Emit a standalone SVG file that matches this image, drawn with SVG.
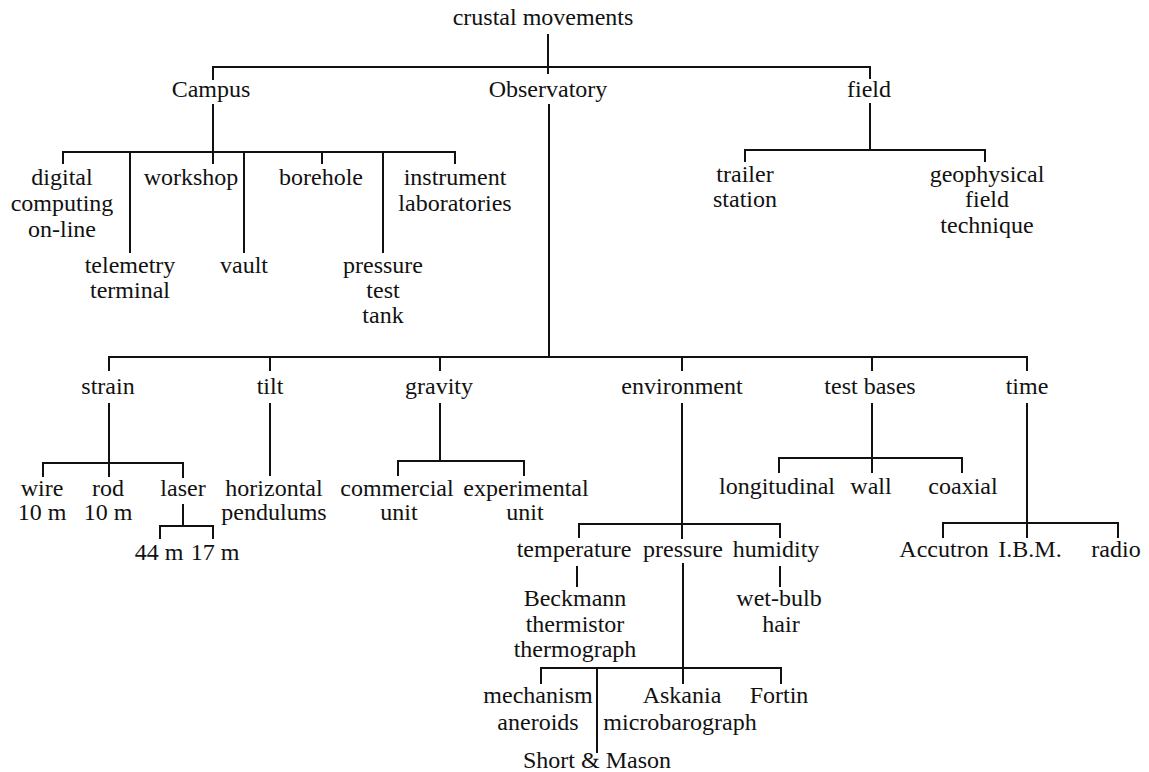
<svg xmlns="http://www.w3.org/2000/svg" width="1149" height="772" viewBox="0 0 1149 772">
<style>
.l{stroke:#111;stroke-width:2;fill:none;stroke-linecap:square}
text{font-family:"Liberation Serif","Times New Roman",serif;font-size:24px;fill:#111;text-anchor:middle}
</style>
<rect width="1149" height="772" fill="#fff"/>
<g id="connectors" class="l">
<path d="M548 35 V73 M213 79 V67 H870 V78"/>
<path d="M213 105 V163 M63 163 V152 H455 V163 M130 152 V252 M244 152 V252 M322 152 V163 M383 152 V252"/>
<path d="M870 104 V150 M745 161 V150 H985 V161"/>
<path d="M549 105 V357 M109 370 V357 H1027 V370 M270 357 V370 M440 357 V370 M682 357 V370 M872 357 V370"/>
<path d="M109 404 V476 M43 476 V463 H183 V477"/>
<path d="M183 505 V526 M160 538 V526 H213 V538"/>
<path d="M270 404 V475"/>
<path d="M440 404 V461 M398 475 V461 H524 V475"/>
<path d="M682 404 V538 M579 537 V524 H780 V537"/>
<path d="M577 567 V586 M780 567 V586"/>
<path d="M683 564 V683 M541 683 V668 H781 V683 M597 668 V752"/>
<path d="M872 404 V472 M779 472 V458 H962 V472"/>
<path d="M1027 404 V537 M943 537 V523 H1118 V537"/>
</g>
<g id="n-crustal"><text x="543" y="25">crustal movements</text></g>
<g id="n-campus"><text x="211" y="97">Campus</text></g>
<g id="n-observatory"><text x="548" y="97">Observatory</text></g>
<g id="n-field"><text x="869" y="97">field</text></g>
<g id="n-digital"><text x="62" y="185">digital</text><text x="62" y="211">computing</text><text x="62" y="237">on-line</text></g>
<g id="n-workshop"><text x="191" y="185">workshop</text></g>
<g id="n-borehole"><text x="321" y="185">borehole</text></g>
<g id="n-instrument"><text x="455" y="185">instrument</text><text x="455" y="211">laboratories</text></g>
<g id="n-telemetry"><text x="130" y="273">telemetry</text><text x="130" y="298">terminal</text></g>
<g id="n-vault"><text x="244" y="273">vault</text></g>
<g id="n-pressuretank"><text x="383" y="273">pressure</text><text x="383" y="298">test</text><text x="383" y="323">tank</text></g>
<g id="n-trailer"><text x="745" y="182">trailer</text><text x="745" y="207">station</text></g>
<g id="n-geophysical"><text x="987" y="182">geophysical</text><text x="987" y="207">field</text><text x="987" y="233">technique</text></g>
<g id="n-strain"><text x="108" y="394">strain</text></g>
<g id="n-tilt"><text x="270" y="394">tilt</text></g>
<g id="n-gravity"><text x="439" y="394">gravity</text></g>
<g id="n-environment"><text x="682" y="394">environment</text></g>
<g id="n-testbases"><text x="870" y="394">test bases</text></g>
<g id="n-time"><text x="1027" y="394">time</text></g>
<g id="n-wire"><text x="42" y="496">wire</text><text x="42" y="520">10 m</text></g>
<g id="n-rod"><text x="108" y="496">rod</text><text x="108" y="520">10 m</text></g>
<g id="n-laser"><text x="183" y="496">laser</text></g>
<g id="n-44m"><text x="159" y="560">44 m</text></g>
<g id="n-17m"><text x="215" y="560">17 m</text></g>
<g id="n-horizontal"><text x="274" y="496">horizontal</text><text x="274" y="520">pendulums</text></g>
<g id="n-commercial"><text x="397" y="496">commercial</text><text x="399" y="520">unit</text></g>
<g id="n-experimental"><text x="526" y="496">experimental</text><text x="525" y="520">unit</text></g>
<g id="n-longitudinal"><text x="777" y="494">longitudinal</text></g>
<g id="n-wall"><text x="871" y="494">wall</text></g>
<g id="n-coaxial"><text x="963" y="494">coaxial</text></g>
<g id="n-temperature"><text x="574" y="557">temperature</text></g>
<g id="n-pressure"><text x="683" y="557">pressure</text></g>
<g id="n-humidity"><text x="776" y="557">humidity</text></g>
<g id="n-beckmann"><text x="575" y="606">Beckmann</text><text x="575" y="632">thermistor</text><text x="575" y="657">thermograph</text></g>
<g id="n-wetbulb"><text x="779" y="606">wet-bulb</text><text x="781" y="632">hair</text></g>
<g id="n-mechanism"><text x="538" y="703">mechanism</text><text x="538" y="730">aneroids</text></g>
<g id="n-askania"><text x="682" y="703">Askania</text><text x="680" y="730">microbarograph</text></g>
<g id="n-fortin"><text x="779" y="703">Fortin</text></g>
<g id="n-shortmason"><text x="597" y="768">Short &amp; Mason</text></g>
<g id="n-accutron"><text x="944" y="557">Accutron</text></g>
<g id="n-ibm"><text x="1030" y="557">I.B.M.</text></g>
<g id="n-radio"><text x="1116" y="557">radio</text></g>
</svg>
